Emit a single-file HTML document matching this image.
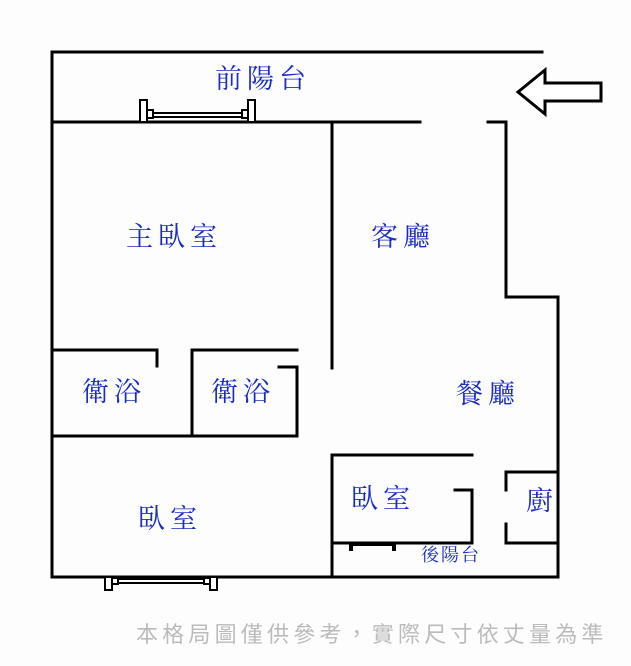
<!DOCTYPE html>
<html><head><meta charset="utf-8"><style>
body{margin:0;background:#fff}
svg{display:block}
text{font-family:"Noto Serif CJK SC","Noto Serif CJK SC",serif;fill:#1a2bc0;font-size:27px;letter-spacing:5px}
</style></head><body>
<svg width="631" height="666" viewBox="0 0 631 666">
<rect width="631" height="666" fill="#fdfdfd"/>
<g stroke="#000" stroke-width="3" fill="none" stroke-linecap="square">
<path d="M52 52H542"/>
<path d="M52 52V577H558V297H506V122H488"/>
<path d="M52 122H420"/>
<path d="M332 122V368"/>
<path d="M52 350H157V366"/>
<path d="M52 436H297V367H279"/>
<path d="M192 436V350H297"/>
<path d="M332 577V455H472"/>
<path d="M332 543H472V490H455"/>
<path d="M558 472H506V490"/>
<path d="M506 524V543H558"/>
</g>
<g stroke="#000" stroke-width="2" fill="#fff">
<rect x="140" y="100" width="7" height="22"/>
<rect x="248" y="100" width="7" height="22"/>
<rect x="147" y="110" width="6" height="8"/>
<rect x="242" y="110" width="6" height="8"/>
<rect x="153" y="113" width="89" height="4"/>
<rect x="105" y="577" width="7" height="13"/>
<rect x="210" y="577" width="7" height="13"/>
<rect x="112" y="578" width="6" height="6"/>
<rect x="204" y="578" width="6" height="6"/>
<rect x="118" y="579" width="86" height="4"/>
<path d="M518 92L545 70V83H601V101H545V114Z" stroke-width="3"/>
</g>
<g fill="#000"><rect x="349" y="543" width="4" height="8"/><rect x="392" y="543" width="4" height="8"/><rect x="349" y="542" width="47" height="4"/></g>
<text x="215" y="88">前陽台</text>
<text x="126" y="246">主臥室</text>
<text x="371" y="246">客廳</text>
<text x="82" y="401">衛浴</text>
<text x="211" y="401">衛浴</text>
<text x="456" y="403">餐廳</text>
<text x="138" y="528">臥室</text>
<text x="351" y="508">臥室</text>
<text x="526" y="510">廚</text>
<text x="421" y="561" style="font-size:18px;letter-spacing:2px">後陽台</text>
<text x="136" y="642" style="font-size:22px;letter-spacing:4.2px;fill:#bbb;font-family:'Liberation Sans','Noto Sans CJK TC',sans-serif">本格局圖僅供參考，實際尺寸依丈量為準</text>
</svg>
</body></html>
